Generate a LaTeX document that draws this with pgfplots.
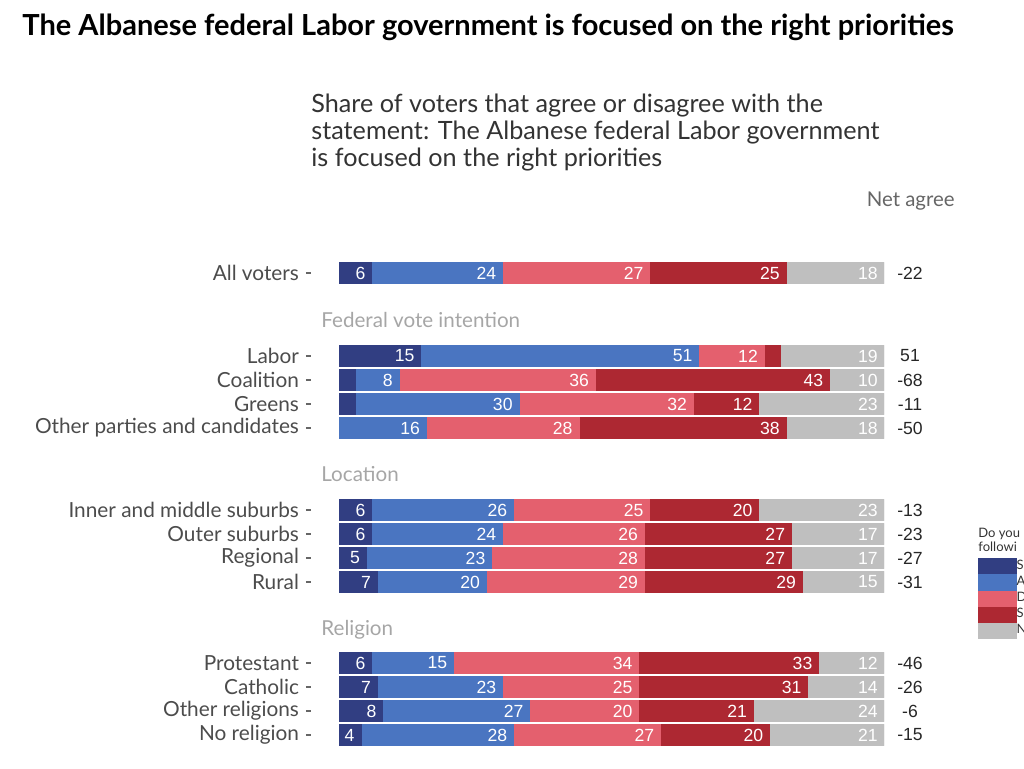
\documentclass[border=0pt]{standalone}
\usepackage{pgfplots}
\pgfplotsset{compat=1.18}
\usepackage{pgfplotstable}
\usepackage{fontspec}
\setmainfont{Lato}
\newfontfamily\arialf{Liberation Sans}

\definecolor{sa}{HTML}{313E82}
\definecolor{ag}{HTML}{4A75C1}
\definecolor{di}{HTML}{E4606E}
\definecolor{sd}{HTML}{AD2832}
\definecolor{ne}{HTML}{BFBFBF}

\pgfplotstableread{
y SA A D SD N net
0 6 24 27 25 18 -22
3.4583 15 51 12 3 19 51
4.4583 3 8 36 43 10 -68
5.4583 3 30 32 12 23 -11
6.4583 0 16 28 38 18 -50
9.875 6 26 25 20 23 -13
10.875 6 24 26 27 17 -23
11.875 5 23 28 27 17 -27
12.875 7 20 29 29 15 -31
16.25 6 15 34 33 12 -46
17.25 7 23 25 31 14 -26
18.25 8 27 20 21 24 -6
19.25 4 28 27 20 21 -15
}\data

\begin{document}
\begin{tikzpicture}
\begin{axis}[
  at={(155.5pt,-130.5pt)}, anchor=north west,
  scale only axis, width=286.5pt, height=243pt,
  xbar stacked, bar width=10.7pt,
  xmin=-5.138, xmax=100,
  ymin=-0.5, ymax=19.75, y dir=reverse,
  axis x line=none, axis y line*=left, y axis line style={draw=none},
  ytick={0,3.4583,4.4583,5.4583,6.4583,9.875,10.875,11.875,12.875,16.25,17.25,18.25,19.25},
  yticklabels={All voters,Labor,Coalition,Greens,Other parties and candidates,Inner and middle suburbs,Outer suburbs,Regional,Rural,Protestant,Catholic,Other religions,No religion},
  tick align=outside, major tick length=2.5pt,
  ytick style={color=black!60, line width=0.7pt},
  yticklabel style={font=\fontsize{10.4}{12}\selectfont, text=black!70},
  point meta=explicit symbolic,
  nodes near coords={\ifnum\pgfplotspointmeta<4 \else\pgfplotspointmeta\fi},
  every node near coord/.append style={anchor=east, xshift=\pgfplotspointmeta*1.3625pt, font=\arialf\fontsize{8.8}{10}\selectfont, text=white, inner sep=3pt},
  legend style={at={(1.164,0.389)}, anchor=north west, draw=none, fill=none,
    font=\fontsize{6.5}{7}\selectfont, row sep=0pt, inner sep=0pt,
    nodes={inner sep=0pt, minimum height=7.75pt}, column sep=0pt, text=black!80},
  legend cell align=left,
  legend image code/.code={\fill[#1] (0pt,-3.875pt) rectangle (18.8pt,3.875pt);},
]
\addplot[fill=sa, draw=sa, line width=0.3pt] table[x=SA,y=y,meta=SA]{\data};
\addplot[fill=ag, draw=ag, line width=0.3pt] table[x=A,y=y,meta=A]{\data};
\addplot[fill=di, draw=di, line width=0.3pt] table[x=D,y=y,meta=D]{\data};
\addplot[fill=sd, draw=sd, line width=0.3pt] table[x=SD,y=y,meta=SD]{\data};
\addplot[fill=ne, draw=ne, line width=0.3pt] table[x=N,y=y,meta=N]{\data};
\legend{S,A,D,S,N}
\end{axis}
\begin{axis}[
  at={(445pt,-130.5pt)}, anchor=north west,
  scale only axis, width=20pt, height=243pt,
  xmin=0, xmax=1, ymin=-0.5, ymax=19.75, y dir=reverse,
  hide axis, clip=false]
\addplot[only marks, mark=none, point meta=explicit symbolic, nodes near coords,
  every node near coord/.append style={anchor=center, font=\arialf\fontsize{8.8}{10}\selectfont, text=black!85}]
  table[x expr=0.5, y=y, meta=net]{\data};
\end{axis}
\begin{scope}[x=0.5pt,y=-0.5pt]
\node[anchor=base west, inner sep=0pt, font=\fontsize{14.5}{17}\selectfont\bfseries] at (22,36) {The Albanese federal Labor government is focused on the right priorities};
\node[anchor=base west, inner sep=0pt, font=\fontsize{12.6}{14}\selectfont, text=black!80] at (311,113) {Share of voters that agree or disagree with the};
\node[anchor=base west, inner sep=0pt, font=\fontsize{12.6}{14}\selectfont, text=black!80] at (311,140) {statement: The Albanese federal Labor government};
\node[anchor=base west, inner sep=0pt, font=\fontsize{12.6}{14}\selectfont, text=black!80] at (311,167) {is focused on the right priorities};
\node[anchor=base east, inner sep=0pt, font=\fontsize{10.2}{12}\selectfont, text=black!60] at (955,207) {Net agree};
\node[anchor=base west, inner sep=0pt, font=\fontsize{10.3}{12}\selectfont, text=black!35] at (321,328) {Federal vote intention};
\node[anchor=base west, inner sep=0pt, font=\fontsize{10.3}{12}\selectfont, text=black!35] at (321,482) {Location};
\node[anchor=base west, inner sep=0pt, font=\fontsize{10.3}{12}\selectfont, text=black!35] at (321,636) {Religion};
\node[anchor=base west, inner sep=0pt, font=\fontsize{6.5}{7}\selectfont, text=black!80] at (978,538) {Do you};
\node[anchor=base west, inner sep=0pt, font=\fontsize{6.5}{7}\selectfont, text=black!80] at (978,552) {followi};
\end{scope}
\pgfresetboundingbox
\path[use as bounding box] (0pt,0pt) rectangle (512pt,-384.5pt);
\end{tikzpicture}
\end{document}
